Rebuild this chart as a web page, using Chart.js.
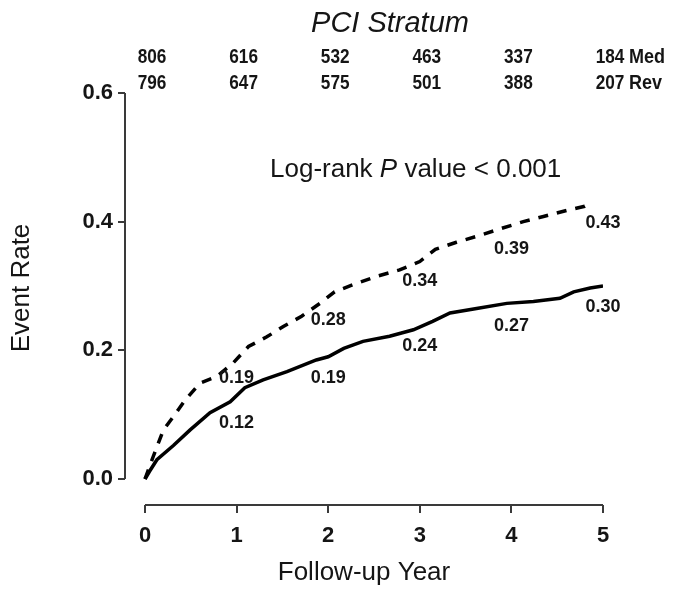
<!DOCTYPE html>
<html><head><meta charset="utf-8">
<script src="https://cdn.jsdelivr.net/npm/chart.js@4.4.1/dist/chart.umd.min.js"></script>
<style>html,body{margin:0;padding:0;background:#fff;}#wrap{width:677px;height:589px;}</style>
</head><body><div id="wrap"><canvas id="c" width="677" height="589"></canvas></div>
<script>
// ---- data ----
const xTickYears = [0, 1, 2, 3, 4, 5];
const yTickValues = [0, 0.2, 0.4, 0.6];
const medAtRisk = [806, 616, 532, 463, 337, 184];
const revAtRisk = [796, 647, 575, 501, 388, 207];

const medYears = [0, 0.09, 0.20, 0.31, 0.44, 0.60, 0.78, 0.96, 1.13, 1.33, 1.51, 1.71, 1.91, 2.07, 2.27, 2.53, 2.78, 3.00, 3.17, 3.40, 3.64, 3.88, 4.13, 4.35, 4.62, 4.80, 4.88];
const medRates = [0, 0.035, 0.076, 0.097, 0.123, 0.149, 0.159, 0.180, 0.206, 0.221, 0.237, 0.253, 0.273, 0.291, 0.302, 0.315, 0.325, 0.338, 0.357, 0.368, 0.378, 0.389, 0.400, 0.408, 0.418, 0.424, 0.430];

const revYears = [0, 0.05, 0.13, 0.31, 0.49, 0.71, 0.93, 1.09, 1.29, 1.55, 1.87, 2.00, 2.17, 2.38, 2.67, 2.93, 3.14, 3.33, 3.62, 3.95, 4.24, 4.53, 4.68, 4.86, 5.00];
const revRates = [0, 0.012, 0.030, 0.052, 0.076, 0.103, 0.120, 0.142, 0.154, 0.167, 0.185, 0.190, 0.203, 0.214, 0.222, 0.232, 0.245, 0.258, 0.265, 0.273, 0.276, 0.281, 0.291, 0.297, 0.300];

const landmarkYears = [1, 2, 3, 4, 5];
const medLandmarks = [0.19, 0.28, 0.34, 0.39, 0.43];
const revLandmarks = [0.12, 0.19, 0.24, 0.27, 0.30];

const titleText = 'PCI Stratum';
const xTitle = 'Follow-up Year';
const yTitle = 'Event Rate';
const medLabel = 'Med';
const revLabel = 'Rev';

// ---- chart ----
const AX = '#3a3a3a';
const TXT = '#151515';
const SANS = '"Liberation Sans", Arial, Helvetica, sans-serif';

function narrowText(ctx, text, x, y, align, sx) {
  ctx.save();
  ctx.translate(x, y);
  ctx.scale(sx, 1);
  ctx.textAlign = align;
  ctx.fillText(text, 0, 0);
  ctx.restore();
}

const overlay = {
  id: 'overlay',
  afterDraw(chart) {
    const ctx = chart.ctx;
    const xs = chart.scales.x, ys = chart.scales.y;
    const ca = chart.chartArea;
    ctx.save();
    // offset axis lines
    ctx.strokeStyle = AX; ctx.lineWidth = 2; ctx.lineCap = 'butt';
    ctx.beginPath();
    ctx.moveTo(xs.getPixelForValue(xTickYears[0]), ca.bottom);
    ctx.lineTo(xs.getPixelForValue(xTickYears[xTickYears.length - 1]), ca.bottom);
    ctx.stroke();
    ctx.beginPath();
    ctx.moveTo(ca.left, ys.getPixelForValue(yTickValues[0]));
    ctx.lineTo(ca.left, ys.getPixelForValue(yTickValues[yTickValues.length - 1]));
    ctx.stroke();

    // title
    ctx.fillStyle = TXT;
    ctx.font = 'italic 29px ' + SANS;
    ctx.textAlign = 'center'; ctx.textBaseline = 'alphabetic';
    ctx.fillText(titleText, 390, 32);

    // y axis title
    ctx.save();
    ctx.translate(22, 288);
    ctx.rotate(-Math.PI / 2);
    ctx.font = '26px ' + SANS;
    ctx.textAlign = 'center'; ctx.textBaseline = 'middle';
    ctx.fillText(yTitle, 0, 0);
    ctx.restore();

    // numbers at risk
    ctx.font = 'bold 20px ' + SANS;
    ctx.textBaseline = 'middle';
    xTickYears.forEach((yr, i) => {
      const px = xs.getPixelForValue(yr) + 7;
      narrowText(ctx, String(medAtRisk[i]), px, 57, 'center', 0.86);
      narrowText(ctx, String(revAtRisk[i]), px, 83, 'center', 0.86);
    });
    narrowText(ctx, medLabel, 629, 57, 'left', 0.9);
    narrowText(ctx, revLabel, 629, 83, 'left', 0.9);

    // log-rank text
    ctx.textBaseline = 'alphabetic';
    ctx.textAlign = 'left';
    let x0 = 270; const yb = 177;
    ctx.font = '26px ' + SANS;
    const p1 = 'Log-rank ';
    ctx.fillText(p1, x0, yb); x0 += ctx.measureText(p1).width;
    ctx.font = 'italic 26px ' + SANS;
    ctx.fillText('P', x0, yb); x0 += ctx.measureText('P').width;
    ctx.font = '26px ' + SANS;
    ctx.fillText(' value < 0.001', x0, yb);

    // landmark labels
    ctx.font = 'bold 18px ' + SANS;
    ctx.textAlign = 'center'; ctx.textBaseline = 'middle';
    landmarkYears.forEach((yr, i) => {
      const px = xs.getPixelForValue(yr);
      ctx.fillText(medLandmarks[i].toFixed(2), px, ys.getPixelForValue(medLandmarks[i]) + 21);
      ctx.fillText(revLandmarks[i].toFixed(2), px, ys.getPixelForValue(revLandmarks[i]) + 21);
    });
    ctx.restore();
  }
};

const toPts = (xs, ys) => xs.map((x, i) => ({ x: x, y: ys[i] }));

new Chart(document.getElementById('c'), {
  type: 'line',
  data: {
    datasets: [
      { label: medLabel, data: toPts(medYears, medRates), borderColor: '#000', borderWidth: 3.5,
        borderDash: [10, 9], pointRadius: 0, tension: 0, fill: false },
      { label: revLabel, data: toPts(revYears, revRates), borderColor: '#000', borderWidth: 3.5,
        pointRadius: 0, tension: 0, fill: false }
    ]
  },
  options: {
    responsive: false, animation: false, devicePixelRatio: 1,
    layout: { padding: { left: 0, right: 74, top: 93, bottom: 0 } },
    plugins: { legend: { display: false }, tooltip: { enabled: false }, title: { display: false } },
    scales: {
      x: {
        type: 'linear', min: -0.2183, max: 5,
        afterBuildTicks: s => { s.ticks = xTickYears.map(v => ({ value: v })); },
        afterFit: s => { s.height = 84; },
        border: { display: false },
        grid: { display: true, drawOnChartArea: false, drawTicks: true, tickLength: 8, color: AX, lineWidth: 2 },
        ticks: { padding: 10, color: TXT, font: { family: SANS, size: 22, weight: 'bold' }, callback: v => String(v), maxRotation: 0, autoSkip: false },
        title: { display: true, text: xTitle, color: TXT, font: { family: SANS, size: 26 }, padding: { top: 0, bottom: 1 } }
      },
      y: {
        type: 'linear', min: -0.0404, max: 0.6,
        afterBuildTicks: s => { s.ticks = yTickValues.map(v => ({ value: v })); },
        afterFit: s => { s.width = 125; },
        border: { display: false },
        grid: { display: true, drawOnChartArea: false, drawTicks: true, tickLength: 7, color: AX, lineWidth: 2 },
        ticks: { padding: 5, color: TXT, font: { family: SANS, size: 22, weight: 'bold' }, callback: v => Number(v).toFixed(1), autoSkip: false },
        title: { display: false, text: yTitle }
      }
    }
  },
  plugins: [overlay]
});
</script>
</body></html>
